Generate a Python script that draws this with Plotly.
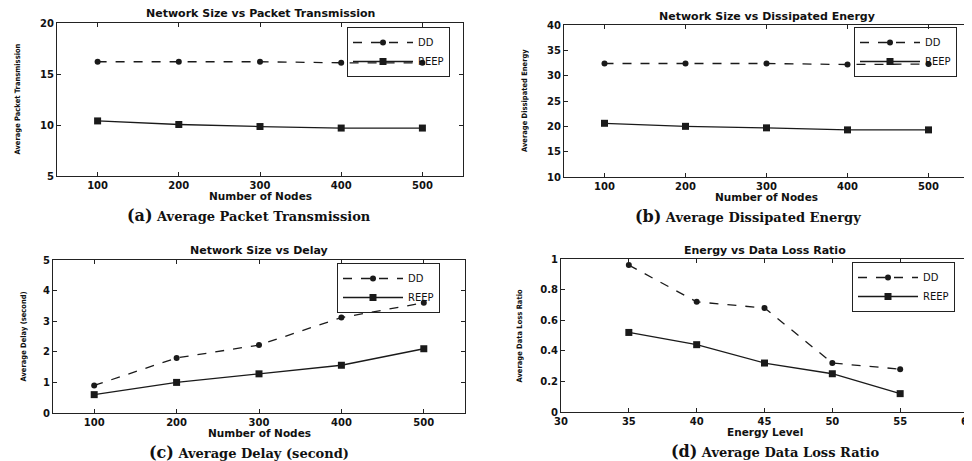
import plotly.graph_objects as go

# ---- data ----
nodes = [100, 200, 300, 400, 500]
energy_levels = [35, 40, 45, 50, 55]

pkt_dd = [16.2, 16.2, 16.2, 16.1, 16.1]
pkt_reep = [10.4, 10.05, 9.85, 9.7, 9.7]

eng_dd = [32.4, 32.4, 32.4, 32.2, 32.3]
eng_reep = [20.6, 20.0, 19.7, 19.3, 19.3]

delay_dd = [0.9, 1.8, 2.22, 3.12, 3.6]
delay_reep = [0.6, 1.0, 1.28, 1.56, 2.1]

loss_dd = [0.96, 0.72, 0.68, 0.32, 0.28]
loss_reep = [0.52, 0.44, 0.32, 0.25, 0.12]

titles = ["Network Size vs Packet Transmission", "Network Size vs Dissipated Energy",
          "Network Size vs Delay", "Energy vs Data Loss Ratio"]
xlabels = ["Number of Nodes", "Number of Nodes", "Number of Nodes", "Energy Level"]
ylabels = ["Average Packet Transmission", "Average Dissipated Energy",
           "Average Delay (second)", "Average Data Loss Ratio"]
captions = [("(a)", "Average Packet Transmission"), ("(b)", "Average Dissipated Energy"),
            ("(c)", "Average Delay (second)"), ("(d)", "Average Data Loss Ratio")]

W, H = 972, 461
OFF = 8  # page body margin offset of the rendered figure
# pixel boxes in the screenshot: left, right, top, bottom
boxes = [(57, 463, 23, 176), (564, 969, 25, 177), (53, 465, 260, 413), (561, 968, 259, 412)]
ylab_gap = [40, 39, 30, 42]
cap_x = [249, 748, 249, 775]
legend_pos = [(347, 27), (854, 27), (337, 263), (852, 262)]
xranges = [[50, 550], [50, 550], [50, 550], [30, 60]]
yranges = [[5, 20], [10, 40], [0, 5], [0, 1]]
ydticks = [5, 5, 1, 0.2]
xdticks = [100, 100, 100, 5]
series = [(nodes, pkt_dd, pkt_reep), (nodes, eng_dd, eng_reep),
          (nodes, delay_dd, delay_reep), (energy_levels, loss_dd, loss_reep)]


def px(x):
    return (x - OFF) / W


def py(y):
    return 1 - (y - OFF) / H


fig = go.Figure()
legend_names = ["legend", "legend2", "legend3", "legend4"]
LINE = "#1a1a1a"

for i, (xs, dd, reep) in enumerate(series):
    xa = "x" if i == 0 else f"x{i+1}"
    ya = "y" if i == 0 else f"y{i+1}"
    fig.add_trace(go.Scatter(x=xs, y=dd, name="DD", mode="lines+markers",
                             line=dict(color=LINE, width=1.3, dash="dash"),
                             marker=dict(symbol="circle", size=6, color=LINE),
                             xaxis=xa, yaxis=ya, legend=legend_names[i]))
    fig.add_trace(go.Scatter(x=xs, y=reep, name="REEP", mode="lines+markers",
                             line=dict(color=LINE, width=1.3),
                             marker=dict(symbol="square", size=7, color=LINE),
                             xaxis=xa, yaxis=ya, legend=legend_names[i]))

tickfont = dict(family="DejaVu Sans", size=10, color="#111", weight="bold")
layout = dict(width=W, height=H, margin=dict(l=0, r=0, t=0, b=0, pad=0, autoexpand=False),
              paper_bgcolor="white", plot_bgcolor="white", showlegend=True)

annotations = []
for i, (l, r, t, b) in enumerate(boxes):
    sx = "" if i == 0 else str(i + 1)
    axcommon = dict(showline=True, linecolor="#222", linewidth=1, mirror="ticks",
                    ticks="inside", ticklen=4, tickcolor="#222", showgrid=False,
                    zeroline=False, tickfont=tickfont, automargin=False)
    layout["xaxis" + sx] = dict(domain=[px(l), px(r)], range=xranges[i], dtick=xdticks[i],
                                tick0=0, anchor="y" + sx, **axcommon)
    layout["yaxis" + sx] = dict(domain=[py(b), py(t)], range=yranges[i],
                                dtick=ydticks[i], tick0=0, anchor="x" + sx, **axcommon)
    cx = (l + r) / 2
    annotations.append(dict(text=titles[i], x=px(cx), y=py(t - 9), xref="paper", yref="paper",
                            showarrow=False, xanchor="center", yanchor="middle",
                            font=dict(family="DejaVu Sans", size=11, color="#111", weight="bold")))
    annotations.append(dict(text=xlabels[i], x=px(cx), y=py(b + 20), xref="paper", yref="paper",
                            showarrow=False, xanchor="center", yanchor="middle",
                            font=dict(family="DejaVu Sans", size=10.5, color="#111", weight="bold")))
    annotations.append(dict(text=ylabels[i], x=px(l - ylab_gap[i]), y=py((t + b) / 2), xref="paper",
                            yref="paper", showarrow=False, textangle=-90, xanchor="center",
                            yanchor="middle",
                            font=dict(family="DejaVu Sans Condensed, DejaVu Sans", size=7.5,
                                      color="#111", weight="bold")))
    lab, cap = captions[i]
    annotations.append(dict(text=f"<span style='font-size:16px'>{lab}</span> {cap}",
                            x=px(cap_x[i]), y=py(b + 39),
                            xref="paper", yref="paper", showarrow=False, xanchor="center",
                            yanchor="middle",
                            font=dict(family="DejaVu Serif", size=13, color="#111", weight="bold")))

for i, (lx, ly) in enumerate(legend_pos):
    layout[legend_names[i]] = dict(x=px(lx), y=py(ly), xanchor="left", yanchor="top",
                                   bordercolor="#222", borderwidth=1,
                                   bgcolor="rgba(255,255,255,0)",
                                   itemwidth=60, tracegroupgap=0,
                                   font=dict(family="DejaVu Sans", size=10, color="#111"))

layout["annotations"] = annotations
fig.update_layout(**layout)
fig.write_html("out.html")
